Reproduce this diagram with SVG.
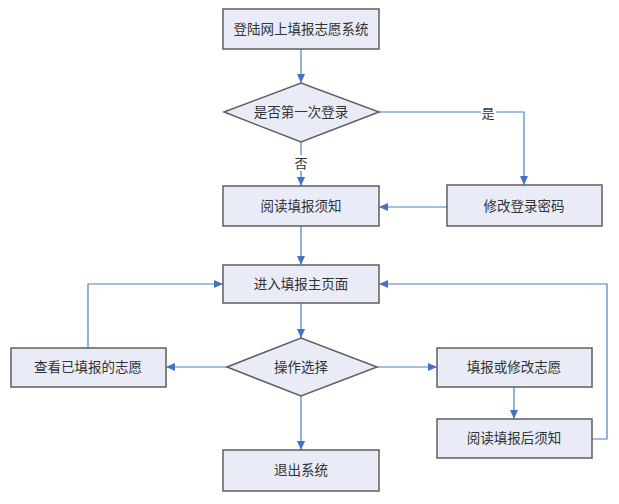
<svg xmlns="http://www.w3.org/2000/svg" width="619" height="504" viewBox="0 0 619 504">
<defs>
<marker id="ah" markerWidth="10" markerHeight="8" refX="9" refY="4" orient="auto" markerUnits="userSpaceOnUse">
<path d="M0,0 L9,4 L0,8 Z" fill="#4472C4"/>
</marker>
<style>
.n{fill:#E9ECF7;stroke:#5F5F5F;stroke-width:1.5}
.t{font-family:"Liberation Serif","Noto Sans CJK SC",serif;font-size:13.5px;fill:#333;text-anchor:middle;dominant-baseline:central}
.c{fill:none;stroke:#4F7FC7;stroke-width:1.2;marker-end:url(#ah)}
.l{font-family:"Liberation Serif","Noto Sans CJK SC",serif;font-size:13px;fill:#333;text-anchor:middle;dominant-baseline:central}
</style>
</defs>
<rect width="619" height="504" fill="#fff"/>
<g id="connectors">
<path class="c" d="M301,49 V83"/>
<path class="c" d="M301,142 V186"/>
<rect x="294" y="155" width="14" height="16" fill="#fff"/>
<text class="l" x="301" y="163">否</text>
<path class="c" d="M379,112 H524 V185"/>
<rect x="481" y="105" width="15" height="16" fill="#fff"/>
<text class="l" x="488" y="113">是</text>
<path class="c" d="M447,207 H379"/>
<path class="c" d="M301,226 V265"/>
<path class="c" d="M301,303 V338"/>
<path class="c" d="M227,367 H166"/>
<path class="c" d="M88,348 V284 H223"/>
<path class="c" d="M377,367 H437"/>
<path class="c" d="M514,387 V419"/>
<path class="c" d="M592,439 H607 V284 H379"/>
<path class="c" d="M301,396 V450"/>
</g>
<g id="n1"><rect class="n" x="223" y="9" width="156" height="40"/><text class="t" x="301" y="29">登陆网上填报志愿系统</text></g>
<g id="n2"><path class="n" d="M224,112 L301,83 L379,112 L301,142 Z"/><text class="t" x="301" y="112">是否第一次登录</text></g>
<g id="n3"><rect class="n" x="223" y="186" width="156" height="40"/><text class="t" x="301" y="206">阅读填报须知</text></g>
<g id="n4"><rect class="n" x="447" y="185" width="155" height="41"/><text class="t" x="524" y="206">修改登录密码</text></g>
<g id="n5"><rect class="n" x="223" y="265" width="156" height="38"/><text class="t" x="301" y="284">进入填报主页面</text></g>
<g id="n6"><path class="n" d="M227,367 L301,338 L377,367 L301,396 Z"/><text class="t" x="301" y="367">操作选择</text></g>
<g id="n7"><rect class="n" x="11" y="348" width="155" height="39"/><text class="t" x="88" y="367">查看已填报的志愿</text></g>
<g id="n8"><rect class="n" x="437" y="348" width="155" height="39"/><text class="t" x="514" y="367">填报或修改志愿</text></g>
<g id="n9"><rect class="n" x="437" y="419" width="155" height="39"/><text class="t" x="514" y="438">阅读填报后须知</text></g>
<g id="n10"><rect class="n" x="223" y="450" width="156" height="41"/><text class="t" x="301" y="470">退出系统</text></g>
</svg>
